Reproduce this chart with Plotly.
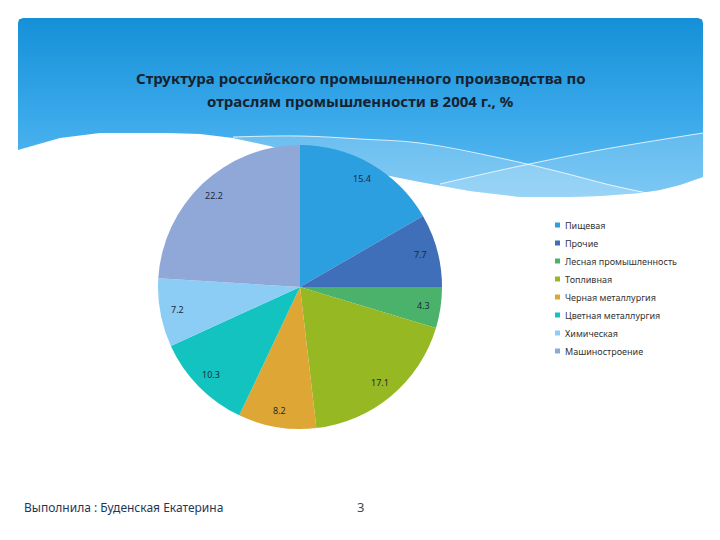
import numpy as np
import plotly.graph_objects as go

# ---- data ----
categories = ["Пищевая", "Прочие", "Лесная промышленность", "Топливная",
              "Черная металлургия", "Цветная металлургия", "Химическая", "Машиностроение"]
values = [15.4, 7.7, 4.3, 17.1, 8.2, 10.3, 7.2, 22.2]
colors = ["#2b9fdf", "#3e6fb8", "#4bb26b", "#95b823",
          "#dea634", "#12c3c0", "#8ccdf5", "#8fa8d8"]

title_lines = ["Структура российского промышленного производства по",
               "отраслям промышленности в 2004 г., %"]
footer_text = "Выполнила : Буденская Екатерина"
page_no = "3"

# The page body has an 8px margin, so the figure occupies window pixels 8..712 x 8..532.
OFF = 8
W, H = 720 - 2 * OFF, 540 - 2 * OFF
# pie geometry (window pixels)
cx, cy, R = 300, 287, 142

fig = go.Figure()

# ---- decorative header (window-pixel coordinate system on hidden axes) ----
bottom_wave = [(703, 177), (680, 185), (660, 190), (640, 193), (600, 196), (570, 197),
               (520, 197), (470, 191), (420, 182), (360, 170), (300, 155), (270, 146),
               (233, 138), (200, 134), (167, 133), (100, 133), (60, 138), (18, 150)]
header = [(18, 23), (19, 19.5), (23, 18), (698, 18), (702, 19.5), (703, 23)] + bottom_wave + [(18, 23)]
fig.add_trace(go.Scatter(
    x=[p[0] for p in header], y=[p[1] for p in header], mode="lines",
    line=dict(width=0, color="rgba(0,0,0,0)"), fill="toself",
    fillgradient=dict(type="vertical", start=18, stop=200,
                      colorscale=[[0, "#1590d8"], [0.55, "#3aa9ea"], [1, "#62bdf2"]]),
    hoverinfo="skip", showlegend=False))

line1 = [(233, 137), (300, 136), (360, 139), (420, 143), (500, 158), (560, 172), (610, 185), (647, 193)]
band1 = line1 + [(640, 193), (600, 196), (570, 197), (520, 197), (470, 191), (420, 182),
                 (360, 170), (300, 155), (270, 146), (233, 138), (233, 137)]
fig.add_trace(go.Scatter(x=[p[0] for p in band1], y=[p[1] for p in band1], mode="lines",
                         line=dict(width=0), fill="toself", fillcolor="rgba(255,255,255,0.22)",
                         hoverinfo="skip", showlegend=False))
line2 = [(440, 184), (520, 166), (600, 150), (703, 133)]
band2 = line2 + [(703, 177), (680, 185), (660, 190), (640, 193), (600, 196), (570, 197),
                 (520, 197), (470, 191), (440, 186), (440, 184)]
fig.add_trace(go.Scatter(x=[p[0] for p in band2], y=[p[1] for p in band2], mode="lines",
                         line=dict(width=0), fill="toself", fillcolor="rgba(255,255,255,0.18)",
                         hoverinfo="skip", showlegend=False))
for ln in (line1, line2):
    fig.add_trace(go.Scatter(x=[p[0] for p in ln], y=[p[1] for p in ln], mode="lines",
                             line=dict(width=1, color="rgba(255,255,255,0.8)", shape="spline"),
                             hoverinfo="skip", showlegend=False))

# ---- pie ----
fig.add_trace(go.Pie(
    labels=categories, values=values, sort=False, direction="clockwise", rotation=0,
    marker=dict(colors=colors, line=dict(width=0)), textinfo="none", showlegend=False,
    domain=dict(x=[(cx - R - OFF) / W, (cx + R - OFF) / W],
                y=[1 - (cy + R - OFF) / H, 1 - (cy - R - OFF) / H])))

# value labels near the outer edge of each slice
vals = np.array(values)
cum = np.cumsum(vals) / vals.sum()
mid = (cum - vals / vals.sum() / 2) * 2 * np.pi
rl = 0.88 * R
for v, a in zip(values, mid):
    fig.add_annotation(x=cx + rl * np.sin(a), y=cy - rl * np.cos(a), xref="x", yref="y",
                       text=f"{v}", showarrow=False,
                       font=dict(family="Noto Sans", size=9, color="#1c2a3e"))

# ---- legend (manual) ----
for i, (lab, col) in enumerate(zip(categories, colors)):
    yy = 225 + 18 * i
    fig.add_shape(type="rect", xref="x", yref="y", x0=555, x1=560, y0=yy - 2.5, y1=yy + 2.5,
                  fillcolor=col, line=dict(width=0))
    fig.add_annotation(x=563, y=yy, xref="x", yref="y", text=lab, showarrow=False,
                       xanchor="left", yanchor="middle",
                       font=dict(family="Noto Sans", size=9, color="#333333"))

# ---- title & footer ----
for ty, tl in zip([78, 101], title_lines):
    fig.add_annotation(x=360, y=ty, xref="x", yref="y", text=f"<b>{tl}</b>", showarrow=False,
                       xanchor="center", yanchor="middle",
                       font=dict(family="Noto Sans", size=15, color="#16222f"))
fig.add_annotation(x=22, y=507, xref="x", yref="y", text=footer_text, showarrow=False,
                   xanchor="left", yanchor="middle",
                   font=dict(family="Noto Sans", size=12, color="#1e3857"))
fig.add_annotation(x=360, y=507, xref="x", yref="y", text=page_no, showarrow=False,
                   xanchor="center", yanchor="middle",
                   font=dict(family="Noto Sans", size=13, color="#3a4a5c"))

fig.update_layout(
    width=W, height=H, margin=dict(l=0, r=0, t=0, b=0),
    paper_bgcolor="white", plot_bgcolor="white",
    xaxis=dict(range=[OFF, OFF + W], visible=False, fixedrange=True),
    yaxis=dict(range=[OFF + H, OFF], visible=False, fixedrange=True),
    showlegend=False)

fig.write_html("out.html")
